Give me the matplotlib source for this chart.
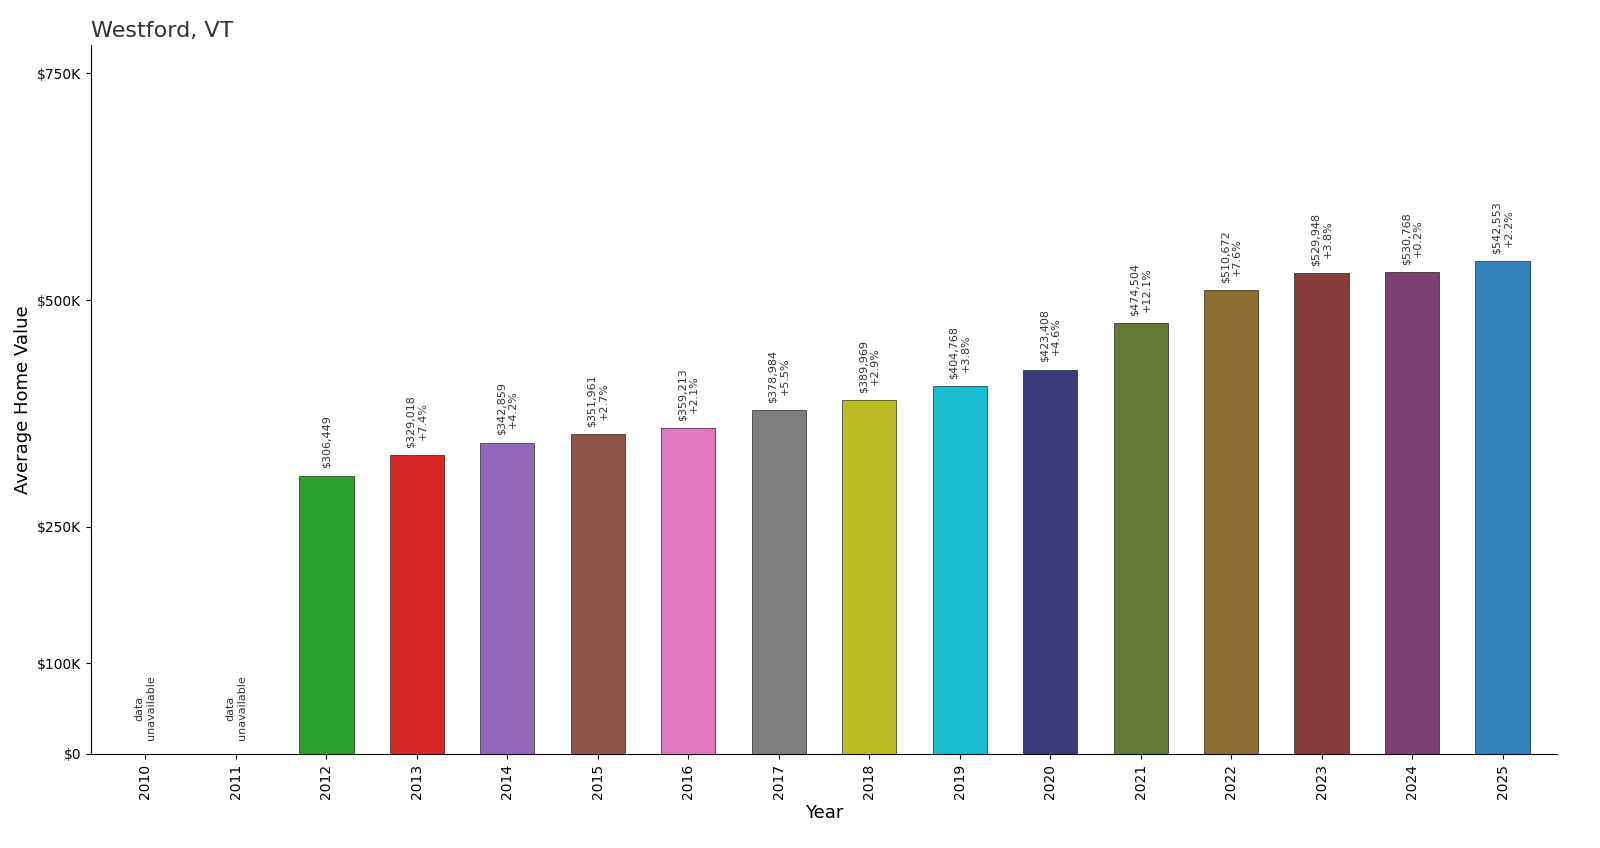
import matplotlib
matplotlib.use("Agg")
import matplotlib.pyplot as plt
from matplotlib.ticker import FuncFormatter

years = [2010, 2011, 2012, 2013, 2014, 2015, 2016, 2017, 2018, 2019, 2020, 2021, 2022, 2023, 2024, 2025]
values = [None, None, 306449, 329018, 342859, 351961, 359213, 378984, 389969, 404768, 423408, 474504, 510672, 529948, 530768, 542553]
changes = [None, None, None, 7.4, 4.2, 2.7, 2.1, 5.5, 2.9, 3.8, 4.6, 12.1, 7.6, 3.8, 0.2, 2.2]
colors = ["#1f77b4", "#ff7f0e", "#2ca02c", "#d62728", "#9467bd", "#8c564b", "#e377c2", "#7f7f7f",
          "#bcbd22", "#17becf", "#393b79", "#637939", "#8c6d31", "#843c39", "#7b4173", "#3182bd"]

fig, ax = plt.subplots(figsize=(16, 8.48), dpi=100)
fig.subplots_adjust(left=0.057, right=0.973, top=0.947, bottom=0.111)

for i, (yr, v) in enumerate(zip(years, values)):
    if v is None:
        ax.text(i, 15000, "data\nunavailable", rotation=90, ha="center", va="bottom", fontsize=8, color="#333333")
        continue
    ax.bar(i, v, width=0.6, color=colors[i], edgecolor="black", linewidth=0.4)
    label = f"${v:,}"
    if changes[i] is not None:
        label += f"\n{changes[i]:+.1f}%"
    ax.text(i, v + 8000, label, rotation=90, ha="center", va="bottom", fontsize=8, color="#333333")

ax.set_xticks(range(len(years)))
ax.set_xticklabels([str(y) for y in years], rotation=90)
ax.set_xlim(-0.6, len(years) - 0.4)
ax.set_ylim(0, 781000)
ax.set_yticks([0, 100000, 250000, 500000, 750000])
ax.yaxis.set_major_formatter(FuncFormatter(lambda x, p: "$0" if x == 0 else f"${int(x/1000)}K"))
ax.spines["top"].set_visible(False)
ax.spines["right"].set_visible(False)
ax.set_xlabel("Year", fontsize=13)
ax.set_ylabel("Average Home Value", fontsize=13)
ax.set_title("Westford, VT", loc="left", fontsize=16, color="#333333")

fig.savefig("out.png")
